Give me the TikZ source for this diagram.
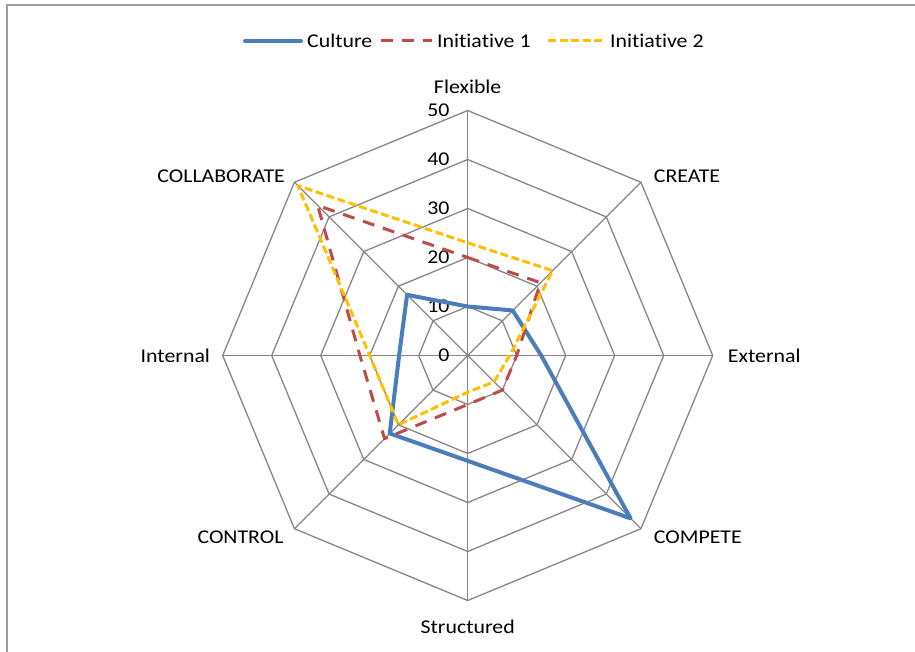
\documentclass[tikz,border=0pt]{standalone}
\usepackage{fontspec}
\setmainfont[FakeStretch=1.12,Ligatures=NoCommon]{Carlito}
\usetikzlibrary{positioning}
\definecolor{culblue}{HTML}{4A7EBB}
\definecolor{inired}{HTML}{BE4B48}
\definecolor{iniyel}{HTML}{FFC000}
\definecolor{webgray}{HTML}{868686}
\tikzset{
    webline/.style={
    draw=webgray,line width=1.3pt
    },
    chartframe/.style={
    draw=webgray!80,line width=1.5pt
    },
    culture/.style={
    draw=culblue,line width=4pt,line join=round,line cap=round
    },
    initone/.style={
    draw=inired,line width=3pt,line join=round,dash pattern=on 12pt off 9pt
    },
    inittwo/.style={
    draw=iniyel,line width=3pt,line join=round,dash pattern=on 8pt off 3.5pt
    },
    axislabel/.style={
    font=\fontsize{19.5}{22}\selectfont,inner sep=0pt
    },
    ticklabel/.style={
    font=\fontsize{19.5}{22}\selectfont,inner sep=0pt,anchor=east
    },
}

\begin{document}
\begin{tikzpicture}[x=1pt,y=1pt]
  \useasboundingbox (-467.7,-296.5) rectangle (447.3,355.5);
  \draw[chartframe] (-460.7,-330) rectangle (470,350.5);

  % web
  \coordinate (O) at (0,0);
  \foreach \a/\n in {90/FX,45/CR,0/EX,-45/CP,-90/ST,-135/CT,180/IN,135/CL}
    \coordinate (\n) at (\a:245);
  \foreach \r in {49,98,147,196,245}
    \draw[webline] (0:\r) \foreach \a in {45,90,...,315} { -- (\a:\r) } -- cycle;
  \foreach \n in {FX,CR,EX,CP,ST,CT,IN,CL}
    \draw[webline] (O) -- (\n);
  \foreach \v in {0,10,...,50}
    \node[ticklabel] (T\v) at (-18,\v*4.9) {\v};

  % axis labels
  \node[axislabel] (FLEX) at (0,268.8) {Flexible};
  \node[axislabel,anchor=west] (CREATE) at (186,178.8) {CREATE};
  \node[axislabel,anchor=west] (EXT) at (260,0) {External};
  \node[axislabel,anchor=west] (COMPETE) at (186,-181.8) {COMPETE};
  \node[axislabel] (STRUCT) at (0,-271.2) {Structured};
  \node[axislabel,anchor=east] (CONTROL) at (-184,-181.8) {CONTROL};
  \node[axislabel,anchor=east] (INT) at (-257.5,0) {Internal};
  \node[axislabel,anchor=east] (COLLAB) at (-182.7,178.8) {COLLABORATE};

  % series
  \foreach \v [count=\i] in {10,13,15,47,21.5,22.5,14,17.5}
    \coordinate (CU\i) at ({135-45*\i}:\v*4.9);
  \foreach \v [count=\i] in {20,21,10,10,10,24,22,43.3}
    \coordinate (IA\i) at ({135-45*\i}:\v*4.9);
  \foreach \v [count=\i] in {23,24.5,8.6,7.6,7.5,20,20,49}
    \coordinate (IB\i) at ({135-45*\i}:\v*4.9);
  \draw[culture] (CU1) -- (CU2) -- (CU3) -- (CU4) -- (CU5) -- (CU6) -- (CU7) -- (CU8) -- cycle;
  \draw[initone] (IA1) -- (IA2) -- (IA3) -- (IA4) -- (IA5) -- (IA6) -- (IA7) -- (IA8) -- cycle;
  \draw[inittwo] (IB1) -- (IB2) -- (IB3) -- (IB4) -- (IB5) -- (IB6) -- (IB7) -- (IB8) -- cycle;

  % legend
  \node[axislabel,anchor=west] (LCUL) at (-160.7,314.5) {Culture};
  \node[axislabel,anchor=west] (LONE) at (-30.7,314.5) {Initiative 1};
  \node[axislabel,anchor=west] (LTWO) at (142.3,314.5) {Initiative 2};
  \coordinate[left=6pt of LCUL] (LC1);
  \coordinate[left=56pt of LC1] (LC0);
  \coordinate[left=5pt of LONE] (LA1);
  \coordinate[left=51pt of LA1] (LA0);
  \coordinate[left=5pt of LTWO] (LB1);
  \coordinate[left=57pt of LB1] (LB0);
  \draw[culture] (LC0) -- (LC1);
  \draw[initone] (LA0) -- (LA1);
  \draw[inittwo] (LB0) -- (LB1);
\end{tikzpicture}
\end{document}
